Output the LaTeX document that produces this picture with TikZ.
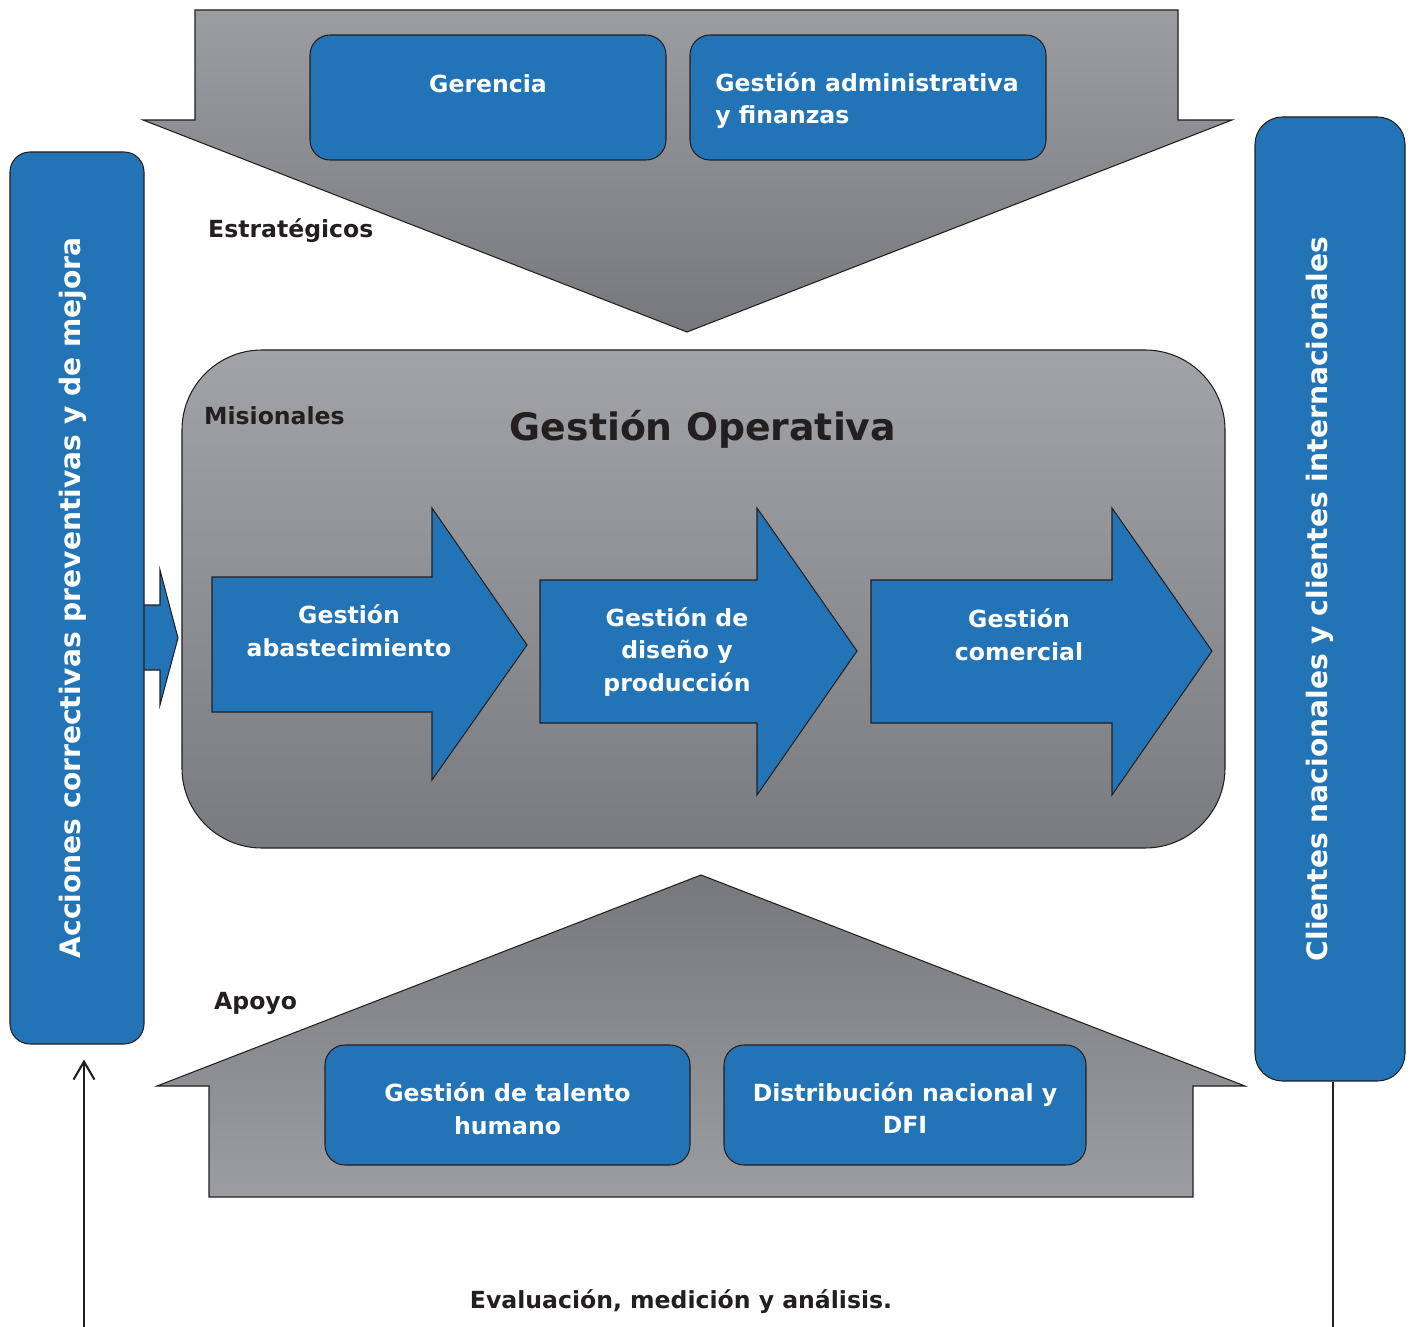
\documentclass[tikz,border=0pt]{standalone}
\usepackage{fontspec}
\setmainfont{DejaVu Sans}
\usetikzlibrary{arrows.meta}

\definecolor{procblue}{RGB}{35,116,182}
\definecolor{edge}{RGB}{35,31,32}
\definecolor{greytop}{RGB}{156,157,161}
\definecolor{greybot}{RGB}{119,120,124}
\definecolor{boxtop}{RGB}{162,163,166}
\definecolor{boxbot}{RGB}{122,123,127}

\begin{document}
\begin{tikzpicture}[x=0.2mm,y=-0.2mm]
\tikzstyle{every node}=[font=\bfseries\fontsize{13.4}{18.6}\selectfont, text=edge]
\tikzstyle{outline}=[draw=edge, line width=0.6pt]
\tikzstyle{procbox}=[outline, fill=procblue, rounded corners=4mm, inner sep=0pt]
\tikzstyle{flowarrow}=[outline, fill=procblue]
\tikzstyle{flowtext}=[text=white, align=center]
\tikzstyle{sidetext}=[text=white, rotate=90, font=\bfseries\fontsize{16}{19}\selectfont]
\tikzstyle{conn}=[draw=edge, line width=1.2pt]

\useasboundingbox (0,0) rectangle (1413,1327);

% Draw the strategic arrow
\draw[outline, top color=greytop, bottom color=greybot] (195,10) -- (1178,10) -- (1178,120) -- (1232,120)
  -- (687,332) -- (143,120) -- (195,120) -- cycle;
\node[procbox, minimum width=7.12cm, minimum height=2.5cm] (ger) at (488,97.5) {};
\node[flowtext] (gertext) at (488,84) {Gerencia};
\node[procbox, minimum width=7.12cm, minimum height=2.5cm] (adm) at (868,97.5) {};
\node[flowtext, align=left] (admtext) at (867,100.5) {Gestión administrativa\\y finanzas};
\node[anchor=west] (estr) at (202,231) {Estratégicos};

% Draw the support arrow
\draw[outline, top color=greybot, bottom color=greytop] (209,1197) -- (1193,1197) -- (1193,1086) -- (1245,1086)
  -- (701,875) -- (157,1086) -- (209,1086) -- cycle;
\node[procbox, minimum width=7.3cm, minimum height=2.4cm] (tal) at (507.5,1105) {};
\node[flowtext] (taltext) at (507.5,1109) {Gestión de talento\\humano};
\node[procbox, minimum width=7.24cm, minimum height=2.4cm] (dist) at (905,1105) {};
\node[flowtext] (disttext) at (905,1108) {Distribución nacional y\\DFI};
\node[anchor=west] (apoyo) at (208,1003) {Apoyo};

% Draw the small arrow out of the left bar
\draw[flowarrow] (138,605) -- (160,605) -- (160,570) -- (178,638) -- (160,705) -- (160,670) -- (138,670) -- cycle;

% Draw the side bars
\node[procbox, minimum width=2.68cm, minimum height=17.84cm] (acc) at (77,598) {};
\node[sidetext] (acctext) at (73,598) {Acciones correctivas preventivas y de mejora};
\node[procbox, rounded corners=5.5mm, minimum width=3cm, minimum height=19.28cm] (cli) at (1330,599) {};
\node[sidetext] (clitext) at (1320,599) {Clientes nacionales y clientes internacionales};

% Draw the operative block
\node[outline, rounded corners=16mm, minimum width=20.86cm, minimum height=9.96cm,
  top color=boxtop, bottom color=boxbot] (ops) at (703.5,599) {};
\node[anchor=west] (mis) at (198,416) {Misionales};
\node[font=\bfseries\fontsize{21.5}{26}\selectfont] (opstitle) at (703,429) {Gestión Operativa};

% Draw the process arrows
\draw[flowarrow] (212,577) -- (432,577) -- (432,508) -- (527,645) -- (432,780) -- (432,712) -- (212,712) -- cycle;
\node[flowtext] (abast) at (349,631) {Gestión\\abastecimiento};
\draw[flowarrow] (540,580) -- (757,580) -- (757,508) -- (857,651) -- (757,795) -- (757,723) -- (540,723) -- cycle;
\node[flowtext] (dise) at (677,652) {Gestión de\\diseño y\\producción};
\draw[flowarrow] (871,580) -- (1112,580) -- (1112,508) -- (1212,651) -- (1112,795) -- (1112,723) -- (871,723) -- cycle;
\node[flowtext] (com) at (1019,635) {Gestión\\comercial};

% Draw the evaluation lines
\coordinate (accbase) at (84,1327);
\coordinate (clibase) at (1333,1327);
\draw[conn, -{Straight Barb[length=3.6mm, width=4.2mm]}, shorten >=0.3cm] (accbase) -- (accbase |- acc.south);
\draw[conn] (cli.south -| clibase) -- (clibase);
\node (eval) at (681,1302) {Evaluación, medición y análisis.};

\end{tikzpicture}
\end{document}
